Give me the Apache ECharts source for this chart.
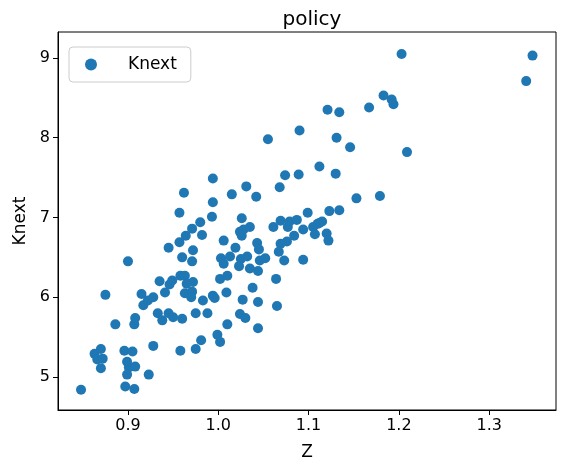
<!DOCTYPE html>
<html><head><meta charset="utf-8">
<script src="https://cdn.jsdelivr.net/npm/echarts@6/dist/echarts.min.js"></script>
<style>html,body{margin:0;padding:0;background:#fff}#c{width:564px;height:472px}</style>
</head><body><div id="c"></div>
<script>
const zValues = [0.848,0.897,0.907,0.899,0.923,0.870,0.901,0.908,0.899,0.863,0.870,0.866,0.872,0.896,0.905,0.928,0.958,0.975,0.981,0.999,1.002,0.886,0.907,0.908,0.933,0.938,0.945,0.950,0.960,0.975,0.988,1.010,0.875,0.915,0.917,0.922,0.928,0.941,0.935,0.946,0.949,0.958,0.963,0.965,0.972,0.963,0.971,0.970,0.983,0.994,0.996,1.002,1.010,1.009,0.900,0.945,0.957,0.960,0.971,0.972,1.003,1.006,1.006,0.994,0.962,0.994,0.957,0.993,1.015,1.031,1.042,1.068,1.074,1.089,1.112,0.980,0.971,0.982,1.026,0.964,1.024,1.028,1.035,1.026,1.043,1.045,1.019,1.013,1.025,1.032,1.023,1.035,1.044,1.046,1.052,1.061,1.069,1.077,1.079,1.087,1.099,1.094,1.105,1.107,1.112,1.084,1.076,1.069,1.067,1.073,1.094,1.064,1.065,1.038,1.044,1.027,1.024,1.030,1.044,1.203,1.348,1.341,1.183,1.192,1.194,1.121,1.134,1.167,1.090,1.055,1.131,1.146,1.209,1.130,1.153,1.179,1.123,1.134,1.115,1.110,1.120,1.122];
const knextValues = [4.84,4.88,4.85,5.03,5.03,5.11,5.12,5.13,5.19,5.29,5.35,5.22,5.23,5.33,5.32,5.39,5.33,5.35,5.46,5.53,5.44,5.66,5.66,5.74,5.80,5.71,5.80,5.75,5.73,5.80,5.80,5.66,6.03,6.04,5.90,5.96,6.00,6.06,6.20,6.16,6.21,6.27,6.27,6.17,6.19,6.05,6.07,6.00,5.96,6.02,5.99,6.23,6.27,6.06,6.45,6.62,6.69,6.50,6.45,6.59,6.49,6.42,6.71,7.49,7.31,7.19,7.06,7.01,7.29,7.39,7.26,7.38,7.53,7.54,7.64,6.94,6.86,6.78,6.99,6.77,6.82,6.85,6.88,6.77,6.68,6.60,6.62,6.51,6.48,6.51,6.39,6.36,6.33,6.46,6.49,6.88,6.96,6.88,6.95,6.97,7.06,6.85,6.88,6.79,6.93,6.77,6.70,6.67,6.57,6.46,6.47,6.23,5.89,6.12,5.94,5.97,5.79,5.74,5.61,9.05,9.03,8.71,8.53,8.48,8.42,8.35,8.32,8.38,8.09,7.98,8.00,7.88,7.82,7.55,7.24,7.27,7.08,7.09,6.95,6.92,6.80,6.71];
const xTicks = [0.9,1.0,1.1,1.2,1.3];
const yTicks = [5,6,7,8,9];
const pts = zValues.map((z,i)=>[z,knextValues[i]]);
const F = 'DejaVu Sans';
const chart = echarts.init(document.getElementById('c'));
chart.setOption({
  animation:false,
  title:{text:'policy',left:307,top:5,textAlign:'center',textStyle:{fontFamily:F,fontSize:20,fontWeight:'normal',color:'#000'}},
  grid:{left:58,right:8,top:32,bottom:62,show:true,borderColor:'#000',borderWidth:1,backgroundColor:'transparent'},
  legend:{left:69,top:47,orient:'vertical',padding:[9,14,9,16],borderColor:'#ccc',borderWidth:1,borderRadius:4,
    itemWidth:12,itemHeight:12,itemGap:6,icon:'circle',textStyle:{fontFamily:F,fontSize:17,color:'#000',padding:[0,0,0,26]},data:['Knext']},
  xAxis:{type:'value',min:0.8225,max:1.374,name:'Z',nameLocation:'middle',nameGap:34,
    nameTextStyle:{fontFamily:F,fontSize:17,color:'#000'},
    axisLine:{show:true,onZero:false,lineStyle:{color:'#000'}},
    axisTick:{show:true,inside:false,length:5,customValues:xTicks,lineStyle:{color:'#000'}},
    axisLabel:{customValues:xTicks,formatter:v=>v.toFixed(1),fontFamily:F,fontSize:16,color:'#000',margin:8},
    splitLine:{show:false}},
  yAxis:{type:'value',min:4.586,max:9.326,name:'Knext',nameLocation:'middle',nameGap:29,
    nameTextStyle:{fontFamily:F,fontSize:17,color:'#000'},
    axisLine:{show:true,onZero:false,lineStyle:{color:'#000'}},
    axisTick:{show:true,inside:false,length:5,customValues:yTicks,lineStyle:{color:'#000'}},
    axisLabel:{customValues:yTicks,formatter:v=>String(Math.round(v)),fontFamily:F,fontSize:16,color:'#000',margin:8},
    splitLine:{show:false}},
  series:[{name:'Knext',type:'scatter',data:pts,symbolSize:10,itemStyle:{color:'#1f77b4',opacity:1}}]
});
</script></body></html>
